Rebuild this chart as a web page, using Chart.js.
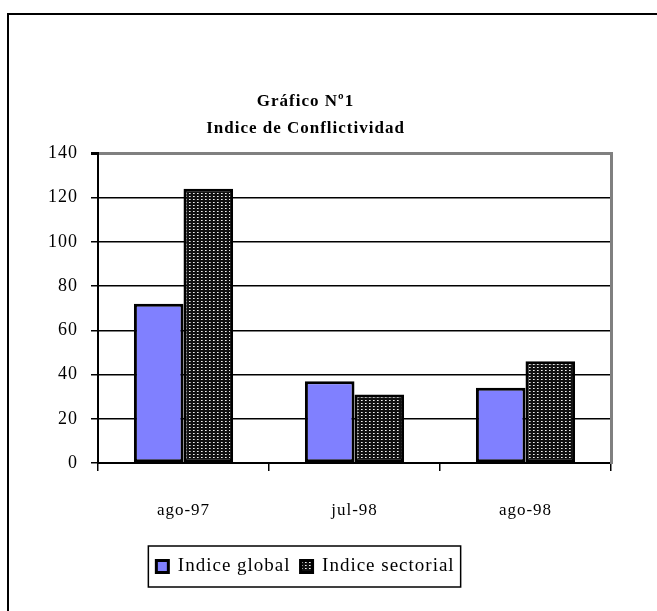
<!DOCTYPE html>
<html lang="es">
  <head>
    <meta charset="UTF-8" />
    <title>Gráfico Nº1 - Indice de Conflictividad</title>
    <script src="https://cdn.jsdelivr.net/npm/chart.js"></script>
    <style>
      html, body { margin: 0; padding: 0; background: #fff; }
      #chart { display: block; }
    </style>
  </head>
  <body>
    <canvas id="chart" width="657" height="611"></canvas>

    <script>
      // Datos
      const categorias = ["ago-97", "jul-98", "ago-98"];
      const indiceGlobal = [72, 37, 34];
      const indiceSectorial = [124, 31, 46];
      const tituloLineas = ["Gráfico Nº1", "Indice de Conflictividad"];

      const serif = "'Liberation Serif', 'Times New Roman', serif";

      // Trama punteada de la serie sectorial
      function crearTrama() {
        const c = document.createElement("canvas");
        c.width = 4;
        c.height = 3;
        const g = c.getContext("2d");
        g.fillStyle = "#111";
        g.fillRect(0, 0, 4, 3);
        g.fillStyle = "#a0a0a0";
        g.fillRect(1, 1, 2, 1);
        g.fillStyle = "#f0f0f0";
        g.fillRect(1, 1, 1, 1);
        return g.createPattern(c, "repeat");
      }
      const trama = crearTrama();

      // Espaciado de letras como en el original (el estado del canvas se
      // reinicia al redimensionar, así que se vuelve a poner antes de medir y dibujar)
      const espaciado = {
        id: "espaciado",
        beforeUpdate(chart) {
          chart.ctx.letterSpacing = "1px";
        },
        beforeDraw(chart) {
          chart.ctx.letterSpacing = "1px";
        },
      };

      // Marco exterior y recuadro de la leyenda
      const marcos = {
        id: "marcos",
        afterDraw(chart) {
          const ctx = chart.ctx;
          ctx.save();
          ctx.strokeStyle = "#000";
          ctx.lineWidth = 2;
          ctx.strokeRect(8, 14, 700, 700);

          const cajas = chart.legend.legendHitBoxes;
          if (cajas && cajas.length) {
            const izq = Math.min(...cajas.map((b) => b.left)) - 8;
            const der = Math.max(...cajas.map((b) => b.left + b.width)) + 6;
            const arr = chart.legend.top - 1;
            const ab = chart.legend.bottom + 1;
            ctx.lineWidth = 1.5;
            ctx.strokeRect(izq, arr, der - izq, ab - arr);
          }
          ctx.restore();
        },
      };

      new Chart(document.getElementById("chart"), {
        type: "bar",
        data: {
          labels: categorias,
          datasets: [
            {
              label: "Indice global",
              data: indiceGlobal,
              backgroundColor: "#8080ff",
              borderColor: "#000",
              borderWidth: 3,
              borderSkipped: false,
            },
            {
              label: "Indice sectorial",
              data: indiceSectorial,
              backgroundColor: trama,
              borderColor: "#000",
              borderWidth: 3,
              borderSkipped: false,
            },
          ],
        },
        options: {
          responsive: false,
          animation: false,
          layout: { padding: { top: 75, left: 0, right: 46, bottom: 25 } },
          datasets: {
            bar: { categoryPercentage: 0.58, barPercentage: 1.0 },
          },
          scales: {
            x: {
              grid: {
                offset: true,
                drawOnChartArea: false,
                drawTicks: true,
                tickLength: 8,
                color: "#000",
                lineWidth: 1.5,
              },
              border: { color: "#000", width: 2 },
              ticks: {
                color: "#000",
                padding: 29,
                font: { family: serif, size: 17 },
              },
              afterFit(s) {
                s.height = 84;
              },
            },
            y: {
              min: 0,
              max: 140,
              ticks: {
                stepSize: 20,
                color: "#000",
                padding: 13,
                font: { family: serif, size: 18 },
              },
              grid: {
                color: (c) => (c.tick && c.tick.value === 140 ? "#808080" : "#000"),
                lineWidth: (c) => (c.tick && c.tick.value === 140 ? 3 : 1.5),
                tickColor: "#000",
                tickLength: 7,
              },
              border: { color: "#000", width: 2 },
              afterFit(s) {
                s.width = 98;
              },
            },
            y2: {
              position: "right",
              min: 0,
              max: 140,
              grid: { display: false },
              ticks: { display: false },
              border: { color: "#808080", width: 3 },
              afterFit(s) {
                s.width = 0;
              },
            },
          },
          plugins: {
            title: {
              display: true,
              text: tituloLineas,
              color: "#000",
              font: { family: serif, size: 17, weight: "bold", lineHeight: 1.6 },
              padding: { top: 13, bottom: 11 },
            },
            legend: {
              position: "bottom",
              labels: {
                color: "#000",
                boxWidth: 12,
                boxHeight: 12,
                padding: 10,
                font: { family: serif, size: 19 },
              },
            },
            tooltip: { enabled: false },
          },
        },
        plugins: [espaciado, marcos],
      });
    </script>
  </body>
</html>
